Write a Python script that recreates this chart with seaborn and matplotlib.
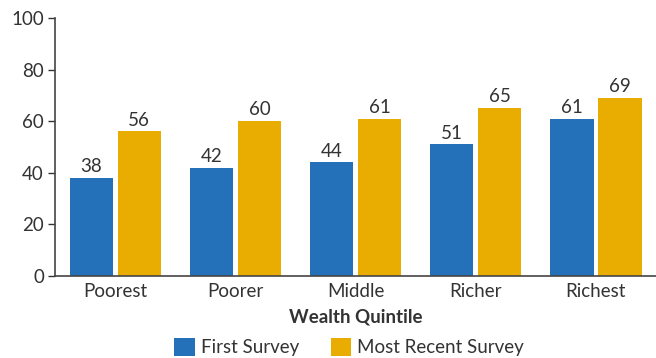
import pandas as pd
import numpy as np
import seaborn as sns
import matplotlib.pyplot as plt

quintiles = ['Poorest', 'Poorer', 'Middle', 'Richer', 'Richest']
first_survey = [38, 42, 44, 51, 61]
recent_survey = [56, 60, 61, 65, 69]
series = ['First Survey', 'Most Recent Survey']
colors = ['#2571B9', '#E9AC00']

df = pd.DataFrame({
    'quintile': quintiles * 2,
    'value': first_survey + recent_survey,
    'survey': [series[0]] * 5 + [series[1]] * 5,
})

sns.set_style('white')
plt.rcParams['font.family'] = ['Lato', 'DejaVu Sans']
fs = 13.5

fig = plt.figure(figsize=(6.56, 3.58), dpi=100)
ax = fig.add_axes([0.084, 0.229, 0.916, 0.721])

sns.barplot(data=df, x='quintile', y='value', hue='survey', palette=colors,
            width=0.8, gap=0.1, ax=ax, saturation=1, linewidth=0)

for c in ax.containers:
    ax.bar_label(c, fmt='%d', padding=2, fontsize=fs, color='#333333')

ax.set_ylim(0, 100)
ax.set_xlim(-0.5, 4.5)
ax.set_yticks(np.arange(0, 101, 20))
ax.tick_params(axis='y', length=5, width=1, color='#333333', labelsize=fs,
               labelcolor='#333333', left=True, pad=3)
ax.tick_params(axis='x', length=0, labelsize=fs, labelcolor='#333333', pad=5)
for s in ['top', 'right']:
    ax.spines[s].set_visible(False)
for s in ['left', 'bottom']:
    ax.spines[s].set_color('#444444')
    ax.spines[s].set_linewidth(1.2)

ax.set_ylabel('')
ax.set_xlabel('Wealth Quintile', fontsize=fs, fontweight='bold',
              color='#333333', labelpad=6)

handles, labels = ax.get_legend_handles_labels()
ax.get_legend().remove()
fig.legend(handles, labels, loc='center', bbox_to_anchor=(0.532, 0.03), ncol=2,
           frameon=False, fontsize=fs, handlelength=1.1, handleheight=1.1,
           columnspacing=1.7, handletextpad=0.3, labelcolor='#333333',
           borderaxespad=0, borderpad=0)

fig.savefig('out.png', dpi=100)
